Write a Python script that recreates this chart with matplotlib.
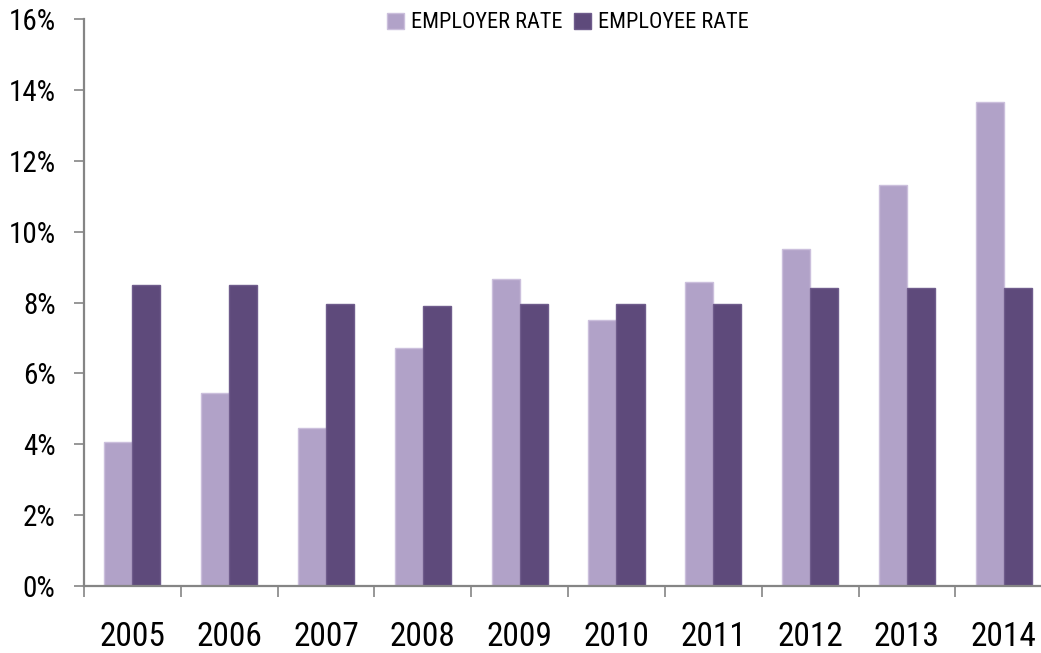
import numpy as np
import matplotlib
matplotlib.use("Agg")
import matplotlib.pyplot as plt
from matplotlib import font_manager
from matplotlib.ticker import FixedLocator, FuncFormatter

# pick a condensed face if one is installed
names = {f.name for f in font_manager.fontManager.ttflist}
for fam in ["Liberation Sans Narrow", "DejaVu Sans Condensed", "Roboto Condensed", "Liberation Sans"]:
    if fam in names:
        break
plt.rcParams["font.family"] = [fam, "DejaVu Sans"]

years = ["2005", "2006", "2007", "2008", "2009", "2010", "2011", "2012", "2013", "2014"]
employer_rate = [4.05, 5.46, 4.47, 6.72, 8.66, 7.50, 8.57, 9.51, 11.31, 13.67]
employee_rate = [8.49, 8.49, 7.96, 7.90, 7.95, 7.95, 7.95, 8.40, 8.40, 8.40]

light = "#b1a2c8"
dark = "#5e4a7b"
axis_grey = "#858585"

fig = plt.figure(figsize=(10.41, 6.53), dpi=100)
ax = fig.add_axes([0.0807, 0.1026, 0.930, 0.8683])

x = np.arange(len(years))
w = 0.29
ax.bar(x - w / 2, employer_rate, w, color=light, edgecolor="#cbbfdc", linewidth=1.0,
       label="EMPLOYER RATE")
ax.bar(x + w / 2, employee_rate, w, color=dark, edgecolor="#6f5c8c", linewidth=1.0,
       label="EMPLOYEE RATE")

ax.set_xlim(-0.5, len(years) - 0.5)
ax.set_ylim(0, 16)

for s in ["top", "right"]:
    ax.spines[s].set_visible(False)
for s in ["left", "bottom"]:
    ax.spines[s].set_color(axis_grey)
    ax.spines[s].set_linewidth(1.6)

ax.set_yticks(np.arange(0, 17, 2))
ax.yaxis.set_major_formatter(FuncFormatter(lambda v, p: f"{v:.0f}%"))
ax.tick_params(axis="y", length=7.5, width=1.2, color=axis_grey, pad=13,
               labelsize=21, labelcolor="black")

# tick marks between the year groups, year labels centred under each group
ax.xaxis.set_major_locator(FixedLocator(np.arange(-0.5, len(years), 1.0)))
ax.xaxis.set_major_formatter(FuncFormatter(lambda v, p: ""))
ax.xaxis.set_minor_locator(FixedLocator(x))
ax.set_xticklabels(years, minor=True)
ax.tick_params(axis="x", which="major", length=8, width=1.2, color=axis_grey)
ax.tick_params(axis="x", which="minor", length=0, pad=25, labelsize=24,
               labelcolor="black")

leg = fig.legend(loc="center", bbox_to_anchor=(568 / 1041, 1 - 23 / 653), ncol=2,
                 frameon=False, fontsize=16, handlelength=0.75, handleheight=0.75,
                 handletextpad=0.35, columnspacing=0.5)

fig.savefig("out.png", dpi=100)
